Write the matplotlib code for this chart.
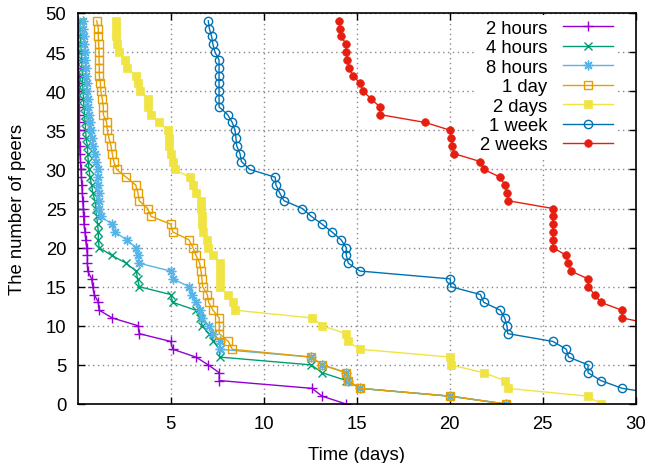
import matplotlib
matplotlib.use("Agg")
import matplotlib.pyplot as plt

plt.rcParams['font.family'] = ['Liberation Sans', 'DejaVu Sans']

peers = [49, 48, 47, 46, 45, 44, 43, 42, 41, 40,
         39, 38, 37, 36, 35, 34, 33, 32, 31, 30,
         29, 28, 27, 26, 25, 24, 23, 22, 21, 20,
         19, 18, 17, 16, 15, 14, 13, 12, 11, 10,
         9, 8, 7, 6, 5, 4, 3, 2, 1, 0]

t_2hours = [0.02, 0.03, 0.03, 0.04, 0.04, 0.05, 0.05, 0.06, 0.06, 0.07,
            0.07, 0.08, 0.08, 0.09, 0.09, 0.10, 0.11, 0.13, 0.16, 0.19,
            0.21, 0.23, 0.26, 0.28, 0.31, 0.33, 0.35, 0.40, 0.44, 0.49,
            0.53, 0.53, 0.55, 0.76, 0.82, 0.90, 1.12, 1.16, 1.87, 3.27,
            3.31, 5.01, 5.12, 6.37, 7.03, 7.62, 7.62, 12.61, 13.15, 14.44]

t_4hours = [0.13, 0.15, 0.16, 0.18, 0.20, 0.22, 0.24, 0.26, 0.28, 0.30,
            0.32, 0.35, 0.38, 0.41, 0.44, 0.46, 0.53, 0.55, 0.58, 0.62,
            0.67, 0.76, 0.82, 0.94, 0.99, 1.03, 1.08, 1.12, 1.12, 1.16,
            1.84, 2.62, 3.15, 3.23, 3.32, 5.01, 5.12, 6.35, 6.59, 6.71,
            7.07, 7.30, 7.64, 7.64, 12.57, 13.16, 14.45, 15.19, 20.04, 23.02]

t_8hours = [0.31, 0.32, 0.34, 0.36, 0.40, 0.42, 0.45, 0.47, 0.49, 0.52,
            0.55, 0.58, 0.63, 0.68, 0.73, 0.80, 0.86, 0.94, 0.99, 1.10,
            1.10, 1.10, 1.14, 1.14, 1.17, 1.25, 1.85, 2.00, 2.64, 3.15,
            3.23, 3.32, 5.01, 5.12, 6.01, 6.17, 6.35, 6.59, 6.71, 7.07,
            7.30, 7.64, 7.64, 12.57, 13.16, 14.45, 14.54, 15.19, 20.04, 23.02]

t_1day = [1.03, 1.12, 1.12, 1.14, 1.16, 1.16, 1.17, 1.17, 1.23, 1.26,
          1.33, 1.39, 1.39, 1.57, 1.60, 1.69, 1.80, 1.87, 1.95, 2.10,
          2.62, 3.13, 3.25, 3.32, 3.77, 3.95, 5.01, 5.12, 5.99, 6.21,
          6.37, 6.57, 6.64, 6.69, 6.73, 6.98, 7.05, 7.28, 7.62, 7.62,
          7.62, 8.11, 8.32, 12.57, 13.16, 14.45, 14.54, 15.19, 20.04, 23.02]

t_2days = [2.05, 2.05, 2.05, 2.10, 2.23, 2.54, 2.66, 3.15, 3.25, 3.36,
           3.79, 3.79, 3.95, 4.38, 4.87, 4.92, 4.92, 5.01, 5.12, 5.22,
           6.03, 6.19, 6.37, 6.62, 6.62, 6.68, 6.68, 6.75, 6.96, 7.02,
           7.27, 7.64, 7.64, 7.64, 7.64, 8.08, 8.34, 8.47, 12.61, 13.15,
           14.44, 14.53, 15.19, 20.04, 20.07, 21.84, 22.97, 23.13, 27.45, 28.13]

t_1week = [7.03, 7.09, 7.21, 7.28, 7.39, 7.61, 7.61, 7.61, 7.61, 7.61,
           7.61, 7.61, 8.07, 8.32, 8.47, 8.52, 8.56, 8.74, 8.81, 9.26,
           10.63, 10.67, 10.87, 11.10, 12.09, 12.57, 13.15, 13.68, 14.17, 14.45,
           14.45, 14.56, 15.19, 20.04, 20.07, 21.66, 21.84, 22.73, 22.97, 23.09,
           23.13, 25.56, 26.28, 26.40, 27.45, 27.45, 28.13, 29.29, 32.0]

t_2weeks = [14.06, 14.10, 14.17, 14.45, 14.45, 14.50, 14.60, 14.80, 15.20, 15.35,
            15.80, 16.25, 16.28, 18.70, 20.05, 20.08, 20.15, 20.26, 21.66, 21.84,
            22.73, 22.97, 23.09, 23.13, 25.56, 25.56, 25.56, 25.56, 25.56, 25.56,
            26.28, 26.37, 26.53, 27.45, 27.45, 27.80, 28.13, 29.26, 29.30, 31.3]

labels = ["2 hours", "4 hours", "8 hours", "1 day", "2 days", "1 week", "2 weeks"]
series = [t_2hours, t_4hours, t_8hours, t_1day, t_2days, t_1week, t_2weeks]
colors = ["#9400d3", "#009e73", "#56b4e9", "#e69f00", "#f0e442", "#0072b2", "#e51e10"]
markers = ["+", "x", (8, 2, 0), "s", "s", "o", "o"]
filled = [True, True, True, False, True, False, True]
msizes = [7, 5.5, 7, 6, 5.5, 6, 5.5]

xticks = [5, 10, 15, 20, 25, 30]
yticks = [0, 5, 10, 15, 20, 25, 30, 35, 40, 45, 50]
FS = 13.3

fig = plt.figure(figsize=(6.45, 4.64), dpi=100)
ax = fig.add_axes([77.5/645, 1-405/464, (635.5-77.5)/645, (405-14)/464])

for t, lab, c, m, f, ms in zip(series, labels, colors, markers, filled, msizes):
    y = peers[:len(t)]
    kw = dict(color=c, lw=1.0, marker=m, markersize=ms, label=lab, clip_on=True)
    if m in ("s", "o"):
        if f:
            kw.update(markerfacecolor=c, markeredgecolor=c, markeredgewidth=0.5)
        else:
            kw.update(markerfacecolor="none", markeredgecolor=c, markeredgewidth=1.0)
    else:
        kw.update(markeredgewidth=1.0)
    ax.plot(t, y, **kw)

ax.set_xlim(0, 30)
ax.set_ylim(0, 50)
ax.set_xticks(xticks)
ax.set_yticks(yticks)
ax.grid(True, color="#888888", linestyle=(0, (1, 2.5)), linewidth=1.0)
ax.set_axisbelow(True)
ax.tick_params(direction="in", length=5, width=1, top=True, right=True,
               labelsize=FS, pad=8)
for s in ax.spines.values():
    s.set_linewidth(1.2)
ax.set_xlabel("Time (days)", fontsize=FS, labelpad=10)
ax.set_ylabel("The number of peers", fontsize=FS, labelpad=14)

leg = ax.legend(loc="upper right", bbox_to_anchor=(0.968, 0.994),
                markerfirst=False, frameon=True, fontsize=FS,
                handlelength=2.7, handletextpad=0.85, labelspacing=0.13,
                borderaxespad=0.0, borderpad=0.25, fancybox=False, framealpha=1)
leg.get_frame().set_edgecolor("none")
for txt in leg.get_texts():
    txt.set_ha("right")
leg._legend_box.align = "right"

fig.savefig("out.png", dpi=100)
